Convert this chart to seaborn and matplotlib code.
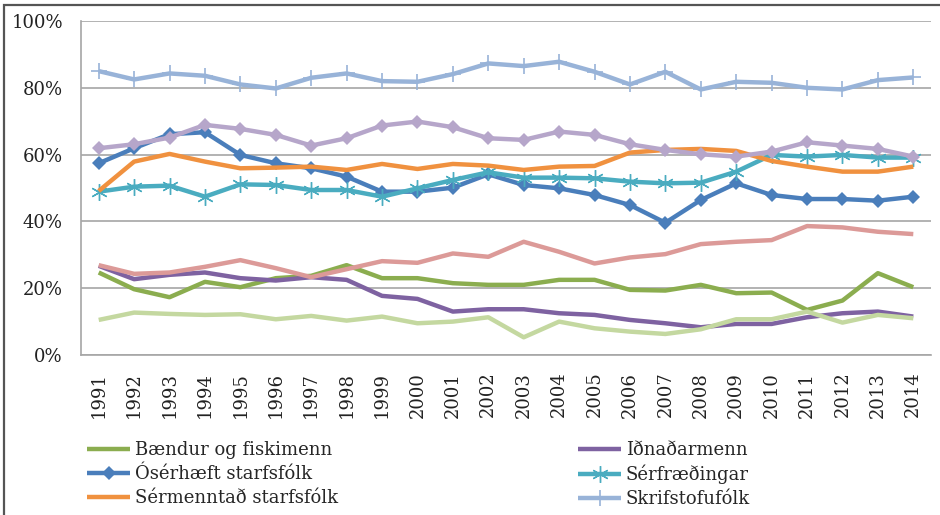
import numpy as np
import pandas as pd
import matplotlib
matplotlib.use("Agg")
import matplotlib.pyplot as plt
from matplotlib.patches import Rectangle
import seaborn as sns

years = list(range(1991, 2015))

baendur = [24.7, 19.7, 17.3, 21.9, 20.3, 23.0, 23.7, 26.9, 23.0, 23.0, 21.5, 21.0,
           21.0, 22.5, 22.5, 19.5, 19.3, 21.0, 18.5, 18.7, 13.5, 16.3, 24.5, 20.3]
idnadarmenn = [26.7, 22.7, 24.0, 24.7, 23.0, 22.3, 23.3, 22.5, 17.7, 16.8, 13.0, 13.7,
               13.7, 12.5, 12.0, 10.5, 9.5, 8.3, 9.3, 9.3, 11.3, 12.5, 13.0, 11.5]
oserhaeft = [57.4, 61.9, 66.1, 66.7, 59.9, 57.4, 55.9, 53.4, 48.9, 48.9, 50.1, 54.1,
             50.9, 49.9, 47.9, 44.9, 39.6, 46.4, 51.4, 47.9, 46.7, 46.7, 46.2, 47.4]
serfraedingar = [48.9, 50.4, 50.7, 47.4, 51.1, 50.9, 49.4, 49.4, 47.4, 49.9, 52.4, 54.7,
                 53.1, 53.1, 52.9, 51.9, 51.4, 51.6, 54.9, 59.9, 59.4, 59.9, 59.1, 59.1]
sermenntad = [49.1, 57.9, 60.2, 57.9, 55.9, 56.1, 56.4, 55.4, 57.2, 55.7, 57.2, 56.7,
              55.4, 56.4, 56.6, 60.6, 61.4, 61.7, 61.1, 58.1, 56.4, 54.9, 54.9, 56.4]
skrifstofufolk = [85.0, 82.5, 84.3, 83.6, 81.0, 79.8, 83.0, 84.3, 82.0, 81.8, 84.1, 87.3,
                  86.5, 87.8, 84.8, 81.0, 84.8, 79.5, 81.8, 81.5, 80.0, 79.5, 82.3, 83.1]
# three more series whose legend rows are cut off in the original
bleikur = [26.9, 24.3, 24.7, 26.4, 28.4, 26.0, 23.3, 25.7, 28.1, 27.6, 30.4, 29.4,
           33.9, 30.9, 27.4, 29.2, 30.2, 33.2, 33.9, 34.4, 38.6, 38.2, 36.9, 36.2]
fjolubl = [61.9, 63.1, 65.1, 68.9, 67.7, 65.9, 62.7, 64.9, 68.7, 69.9, 68.2, 64.9,
           64.4, 66.9, 65.9, 63.1, 61.4, 60.1, 59.4, 60.9, 63.7, 62.7, 61.7, 59.4]
ljosgraenn = [10.5, 12.7, 12.3, 12.0, 12.2, 10.7, 11.7, 10.3, 11.5, 9.5, 10.0, 11.3,
              5.3, 10.0, 8.0, 7.0, 6.3, 7.7, 10.7, 10.7, 13.0, 9.7, 12.0, 11.0]

series = [
    ("Bændur og fiskimenn", baendur, "#8BAD4F", None),
    ("Iðnaðarmenn", idnadarmenn, "#7E62A1", None),
    ("Ósérhæft starfsfólk", oserhaeft, "#4A7EBB", "D"),
    ("Sérfræðingar", serfraedingar, "#4AACC0", (6, 2, 0)),
    ("Sérmenntað starfsfólk", sermenntad, "#F0913F", None),
    ("Skrifstofufólk", skrifstofufolk, "#98B3D8", "+"),
    ("_bleikur", bleikur, "#DC9A98", None),
    ("_fjolubl", fjolubl, "#B6A6CA", "D"),
    ("_ljosgraenn", ljosgraenn, "#C4D8A0", None),
]

sns.set_theme(style="white")
plt.rcParams["font.family"] = ["DejaVu Serif"]

fig = plt.figure(figsize=(9.4, 5.15), dpi=100)
ax = fig.add_axes([81 / 940, 1 - 355 / 515, 850 / 940, 334 / 515])

handles = {}
for name, vals, col, mk in series:
    df = pd.DataFrame({"ar": years, "hlutfall": vals})
    kw = dict(linewidth=3.2, color=col)
    if mk == "D":
        kw.update(marker="D", markersize=7, markeredgewidth=0)
    elif mk == "+":
        kw.update(marker="+", markersize=11, markeredgewidth=1.2, markeredgecolor=col)
    elif mk is not None:
        kw.update(marker=mk, markersize=12, markeredgewidth=1.0, markeredgecolor=col)
    sns.lineplot(data=df, x="ar", y="hlutfall", ax=ax, label=name, legend=False,
                 solid_joinstyle="round", solid_capstyle="butt", **kw)
    handles[name] = ax.get_lines()[-1]

ax.set_xlim(1990.5, 2014.5)
ax.set_ylim(0, 100)
ax.set_xticks(years)
ax.set_xticklabels([str(y) for y in years], rotation=90, fontsize=13)
ax.set_yticks([0, 20, 40, 60, 80, 100])
ax.set_yticklabels(["0%", "20%", "40%", "60%", "80%", "100%"], fontsize=13)
ax.tick_params(axis="y", length=0, pad=13, colors="#222222")
ax.tick_params(axis="x", length=0, pad=12, colors="#222222")
ax.set_xlabel("")
ax.set_ylabel("")
ax.yaxis.grid(True, color="#A6A6A6", linewidth=1.2)
ax.xaxis.grid(False)
for s in ["top", "right"]:
    ax.spines[s].set_visible(False)
for s in ["left", "bottom"]:
    ax.spines[s].set_color("#A6A6A6")
    ax.spines[s].set_linewidth(1.2)

names = [s[0] for s in series]
leg_kw = dict(loc="upper left", frameon=False, fontsize=13, handlelength=2.4,
              handletextpad=0.25, labelspacing=0.33, borderpad=0, borderaxespad=0)
leg1 = fig.legend([handles[n] for n in names[0:6:2]], names[0:6:2],
                  bbox_to_anchor=(87 / 940, 1 - 441 / 515), **leg_kw)
leg2 = fig.legend([handles[n] for n in names[1:6:2]], names[1:6:2],
                  bbox_to_anchor=(578 / 940, 1 - 441 / 515), **leg_kw)

# frame of the pasted chart (only left and top edges visible)
fig.patches.append(Rectangle((4 / 940, -0.2), 1.2, 1.2 - 5 / 515,
                             transform=fig.transFigure, fill=False,
                             edgecolor="#555555", linewidth=1.6))

fig.savefig("out.png", dpi=100)
